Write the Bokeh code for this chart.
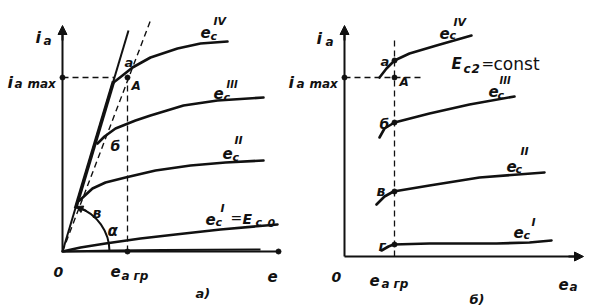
import math
from bokeh.plotting import figure
from bokeh.models import Range1d, Arrow, NormalHead
from bokeh.core.properties import value
from bokeh.embed import file_html
from bokeh.resources import INLINE

# ---------------- data (arbitrary units: e_a along x, i_a along y) ----------------
# Panel a): anode characteristics for four grid voltages
La_ecIV_x = [5.1, 6.0, 7.0, 8.8, 11.5, 13.8, 16.5]
La_ecIV_y = [16.9, 17.6, 18.4, 19.4, 20.3, 20.8, 21.0]
La_ecIII_x = [3.5, 4.2, 5.3, 7.3, 8.8, 12.1, 15.5, 20.1]
La_ecIII_y = [10.8, 11.5, 12.3, 13.1, 13.6, 14.6, 15.1, 15.4]
La_ecII_x = [1.7, 3.0, 4.3, 6.3, 9.3, 12.8, 16.3, 20.1]
La_ecII_y = [5.1, 6.3, 6.9, 7.4, 8.1, 8.6, 8.9, 9.1]
La_ecI_x = [0.0, 1.8, 4.3, 7.8, 11.3, 15.8, 21.5]
La_ecI_y = [0.0, 0.4, 0.8, 1.3, 1.7, 2.2, 2.7]
La_ec0_x = [0.0, 5.0, 10.0, 19.8]
La_ec0_y = [0.0, 0.1, 0.15, 0.2]
La_crit_x = [0.0, 6.6]          # critical (saturation) line
La_crit_y = [0.0, 22.1]
La_crit_thick_x = [1.3, 5.1]
La_crit_thick_y = [4.3, 17.0]
La_load_x = [0.0, 8.8]          # dashed line through A
La_load_y = [0.0, 23.1]
La_ia_max = 17.4
La_ea_gr = 6.5
La_x_end = 21.6
La_y_end = 22.6

# Panel б): anode characteristics at E_c2 = const
Rb_ecIV_x = [3.5, 4.2, 5.0, 6.5, 9.2, 12.7]
Rb_ecIV_y = [17.9, 18.8, 19.6, 20.3, 21.1, 22.1]
Rb_ecIII_x = [3.5, 4.0, 5.0, 8.5, 12.5, 17.0]
Rb_ecIII_y = [11.9, 12.8, 13.4, 14.3, 15.2, 16.0]
Rb_ecII_x = [3.2, 4.0, 4.9, 8.5, 13.5, 20.0]
Rb_ecII_y = [5.2, 6.0, 6.5, 7.1, 7.9, 8.4]
Rb_ecI_x = [3.7, 4.4, 4.9, 8.5, 15.2, 18.5, 20.7]
Rb_ecI_y = [0.6, 1.0, 1.2, 1.3, 1.3, 1.4, 1.6]
Rb_pts_y = [19.6, 13.4, 6.5, 1.2]   # points a, б, в, г at e_a гр
Rb_ia_max = 17.9
Rb_ea_gr = 5.0
Rb_x_end = 23.9
Rb_y_end = 23.1
Rb_vdash_top = 21.6
Rb_hdash_end = 8.0

# ---------------- figure ----------------
p = figure(width=596, height=306, output_backend="svg", toolbar_location=None,
           x_range=Range1d(-6.2, 53.4), y_range=Range1d(-5.5, 25.1),
           x_axis_type=None, y_axis_type=None, min_border=0)
p.extra_x_ranges = {"r": Range1d(-34.4, 25.2)}
p.extra_y_ranges = {"r": Range1d(-5.0, 25.6)}
p.outline_line_color = None
p.background_fill_color = "white"
p.border_fill_color = "white"

K = "#111111"
R = dict(x_range_name="r", y_range_name="r")
LW = 2.6
DASH = "6 4"

# ----- panel a) -----
p.line([0, La_x_end], [0, 0], line_color=K, line_width=2)
p.line([0, 0], [0, La_y_end - 0.5], line_color=K, line_width=2)
p.add_layout(Arrow(end=NormalHead(size=9, fill_color=K, line_color=K),
                   x_start=0, y_start=La_y_end - 1.5, x_end=0, y_end=La_y_end,
                   line_color=K, line_width=2))
p.line(La_ec0_x, La_ec0_y, line_color=K, line_width=2)
p.line(La_crit_x, La_crit_y, line_color=K, line_width=2)
p.line(La_crit_thick_x, La_crit_thick_y, line_color=K, line_width=3.6)
p.line(La_load_x, La_load_y, line_color=K, line_width=1.4, line_dash=DASH)
p.line([0, La_crit_x[1] * (La_ia_max / La_crit_y[1])], [La_ia_max, La_ia_max],
       line_color=K, line_width=1.3, line_dash=DASH)
p.line([La_ea_gr, La_ea_gr], [0, La_ia_max], line_color=K, line_width=1.3, line_dash=DASH)
for xs, ys in [(La_ecIV_x, La_ecIV_y), (La_ecIII_x, La_ecIII_y),
               (La_ecII_x, La_ecII_y), (La_ecI_x, La_ecI_y)]:
    p.line(xs, ys, line_color=K, line_width=LW, line_join="round", line_cap="round")
p.scatter([0, La_ea_gr, La_ea_gr, La_x_end], [La_ia_max, La_ia_max, 0, 0],
          size=5, color=K)
# angle alpha
ang = math.atan2(La_crit_y[1], La_crit_x[1])
rad = 4.7
p.arc(x=[0], y=[0], radius=rad, start_angle=0, end_angle=ang - 0.05,
      line_color=K, line_width=2)
a0 = ang - 0.25
p.add_layout(Arrow(end=NormalHead(size=7, fill_color=K, line_color=K),
                   x_start=rad * math.cos(a0), y_start=rad * math.sin(a0),
                   x_end=rad * math.cos(ang), y_end=rad * math.sin(ang),
                   line_color=K, line_width=2))

# ----- panel б) -----
p.line([0, Rb_x_end - 0.5], [0, 0], line_color=K, line_width=2, **R)
p.line([0, 0], [0, Rb_y_end - 0.5], line_color=K, line_width=2, **R)
p.add_layout(Arrow(end=NormalHead(size=9, fill_color=K, line_color=K),
                   x_start=0, y_start=Rb_y_end - 1.5, x_end=0, y_end=Rb_y_end,
                   line_color=K, line_width=2, **R))
p.add_layout(Arrow(end=NormalHead(size=9, fill_color=K, line_color=K),
                   x_start=Rb_x_end - 1.5, y_start=0, x_end=Rb_x_end, y_end=0,
                   line_color=K, line_width=2, **R))
p.line([0, Rb_hdash_end], [Rb_ia_max, Rb_ia_max], line_color=K, line_width=1.3,
       line_dash=DASH, **R)
p.line([Rb_ea_gr, Rb_ea_gr], [0, Rb_vdash_top], line_color=K, line_width=1.3,
       line_dash=DASH, **R)
for xs, ys in [(Rb_ecIV_x, Rb_ecIV_y), (Rb_ecIII_x, Rb_ecIII_y),
               (Rb_ecII_x, Rb_ecII_y), (Rb_ecI_x, Rb_ecI_y)]:
    p.line(xs, ys, line_color=K, line_width=LW, line_join="round", line_cap="round", **R)
p.scatter([Rb_ea_gr] * len(Rb_pts_y) + [Rb_ea_gr, 0],
          Rb_pts_y + [Rb_ia_max, Rb_ia_max], size=5, color=K, **R)

# ----- texts (positions in screen pixels of the layout) -----
def place(side, px, py):
    if side == "L":
        return (px - 62) / 10.0, (251 - py) / 10.0
    return (px - 344) / 10.0, (256 - py) / 10.0

FONTS = {"it": ("DejaVu Sans", "bold italic"),
         "up": ("DejaVu Sans", "normal"),
         "rn": ("DejaVu Sans", "bold italic")}

labels = [
    ("L", 35, 37, "i", 16, "it"), ("L", 43, 40, "a", 12, "it"),
    ("L", 7, 82, "i", 16, "it"), ("L", 14, 83, "a", 12, "it"), ("L", 27, 83, "max", 12, "it"),
    ("L", 124, 62, "a", 13, "it"), ("L", 131, 85, "A", 12, "it"),
    ("L", 110, 145, "б", 14, "it"), ("L", 92, 212, "в", 14, "it"), ("L", 107, 230, "α", 15, "it"),
    ("L", 53, 271, "0", 14, "it"),
    ("L", 110, 270, "e", 15, "it"), ("L", 121, 275, "a", 12, "it"), ("L", 133, 275, "гр", 12, "it"),
    ("L", 195, 293, "a)", 13, "it"),
    ("L", 267, 275, "e", 15, "it"),
    ("L", 200, 31, "e", 15, "it"), ("L", 210, 36, "c", 11, "it"), ("L", 213, 21, "IV", 11, "rn"),
    ("L", 213, 92, "e", 15, "it"), ("L", 223, 97, "c", 11, "it"), ("L", 226, 84, "III", 10, "rn"),
    ("L", 222, 152, "e", 15, "it"), ("L", 232, 157, "c", 11, "it"), ("L", 234, 140, "II", 11, "rn"),
    ("L", 205, 218, "e", 15, "it"), ("L", 215, 222, "c", 11, "it"), ("L", 220, 208, "I", 11, "rn"),
    ("L", 230, 217, "=", 14, "up"), ("L", 242, 218, "E", 14, "it"),
    ("L", 255, 222, "c", 11, "it"), ("L", 267, 222, "0", 11, "it"),
    ("R", 316, 38, "i", 16, "it"), ("R", 325, 41, "a", 12, "it"),
    ("R", 288, 82, "i", 16, "it"), ("R", 296, 83, "a", 12, "it"), ("R", 309, 83, "max", 12, "it"),
    ("R", 380, 61, "a", 13, "it"), ("R", 399, 81, "A", 12, "it"),
    ("R", 379, 123, "б", 14, "it"), ("R", 376, 190, "в", 14, "it"), ("R", 378, 245, "г", 14, "it"),
    ("R", 331, 276, "0", 14, "it"),
    ("R", 369, 279, "e", 15, "it"), ("R", 381, 283, "a", 12, "it"), ("R", 393, 283, "гр", 12, "it"),
    ("R", 558, 283, "e", 15, "it"), ("R", 569, 286, "a", 12, "it"),
    ("R", 469, 299, "б)", 13, "it"),
    ("R", 451, 63, "E", 15, "it"), ("R", 463, 68, "c", 12, "it"), ("R", 471, 68, "2", 12, "it"),
    ("R", 481, 63, "=", 15, "up"), ("R", 493, 63, "const", 17, "up"),
    ("R", 439, 32, "e", 15, "it"), ("R", 449, 35, "c", 11, "it"), ("R", 453, 22, "IV", 11, "rn"),
    ("R", 488, 90, "e", 15, "it"), ("R", 497, 95, "c", 11, "it"), ("R", 499, 80, "III", 10, "rn"),
    ("R", 506, 165, "e", 15, "it"), ("R", 515, 169, "c", 11, "it"), ("R", 520, 151, "II", 11, "rn"),
    ("R", 513, 231, "e", 15, "it"), ("R", 523, 235, "c", 11, "it"), ("R", 531, 222, "I", 11, "rn"),
]

for side, px, py, txt, size, kind in labels:
    x, y = place(side, px, py)
    font, style = FONTS[kind]
    extra = R if side == "R" else {}
    p.text(x=[x], y=[y], text=[txt], text_font=value(font), text_font_style=style,
           text_font_size=f"{size}px", text_color=K, text_align="left",
           text_baseline="alphabetic", **extra)

open("out.html", "w").write(file_html(p, INLINE))
